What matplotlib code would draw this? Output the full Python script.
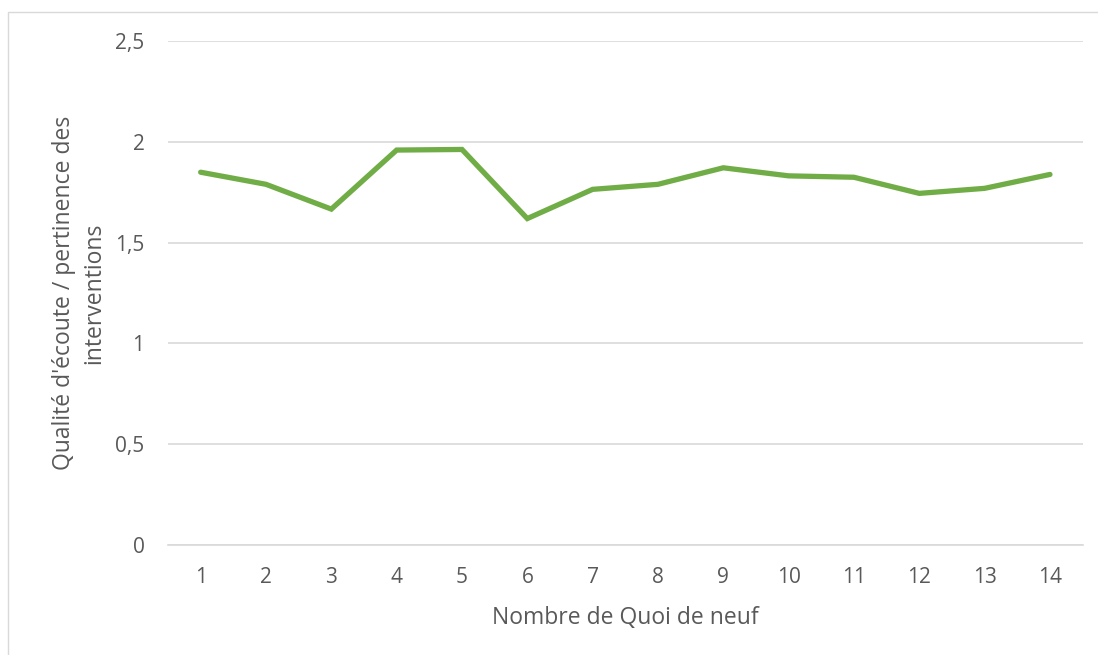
import matplotlib.pyplot as plt
from matplotlib.patches import Rectangle
from matplotlib.ticker import FuncFormatter

# Valeurs
quoi_de_neuf = list(range(1, 15))
qualite_ecoute = [1.85, 1.79, 1.667, 1.96, 1.963, 1.62, 1.765, 1.79,
                  1.872, 1.832, 1.825, 1.745, 1.77, 1.839]
y_ticks = [0, 0.5, 1, 1.5, 2, 2.5]

plt.rcParams['font.family'] = ['Open Sans', 'DejaVu Sans']
text_color = "#595959"

fig = plt.figure(figsize=(10.98, 6.55), dpi=100)
ax = fig.add_axes([0.153, 0.168, 0.833, 0.769])

# Cadre gris clair autour du graphique
fig.patches.append(Rectangle((8 / 1098, -0.1), 1.2, 1 - 12 / 655 + 0.1,
                             transform=fig.transFigure, fill=False,
                             edgecolor="#d9d9d9", linewidth=1))

ax.plot(quoi_de_neuf, qualite_ecoute, color="#70ad47", linewidth=3.8,
        solid_capstyle="round", solid_joinstyle="miter")

ax.set_xlim(0.5, 14.5)
ax.set_ylim(0, 2.5)
ax.set_xticks(quoi_de_neuf)
ax.set_yticks(y_ticks)
ax.yaxis.set_major_formatter(FuncFormatter(lambda v, p: f"{v:g}".replace(".", ",")))

ax.grid(axis="y", color="#d9d9d9", linewidth=1.2)
ax.set_axisbelow(True)
for side in ["top", "right", "left"]:
    ax.spines[side].set_visible(False)
ax.spines["bottom"].set_color("#d9d9d9")
ax.spines["bottom"].set_linewidth(1.2)

ax.tick_params(axis="both", length=0, labelsize=15, labelcolor=text_color)
ax.tick_params(axis="y", pad=17)
ax.tick_params(axis="x", pad=16)

ax.set_xlabel("Nombre de Quoi de neuf", fontsize=16.5, color=text_color, labelpad=13)
ax.set_ylabel("Qualité d'écoute / pertinence des\ninterventions", fontsize=16.5,
              color=text_color, labelpad=6, linespacing=1.35)

plt.savefig("out.png", dpi=100)
